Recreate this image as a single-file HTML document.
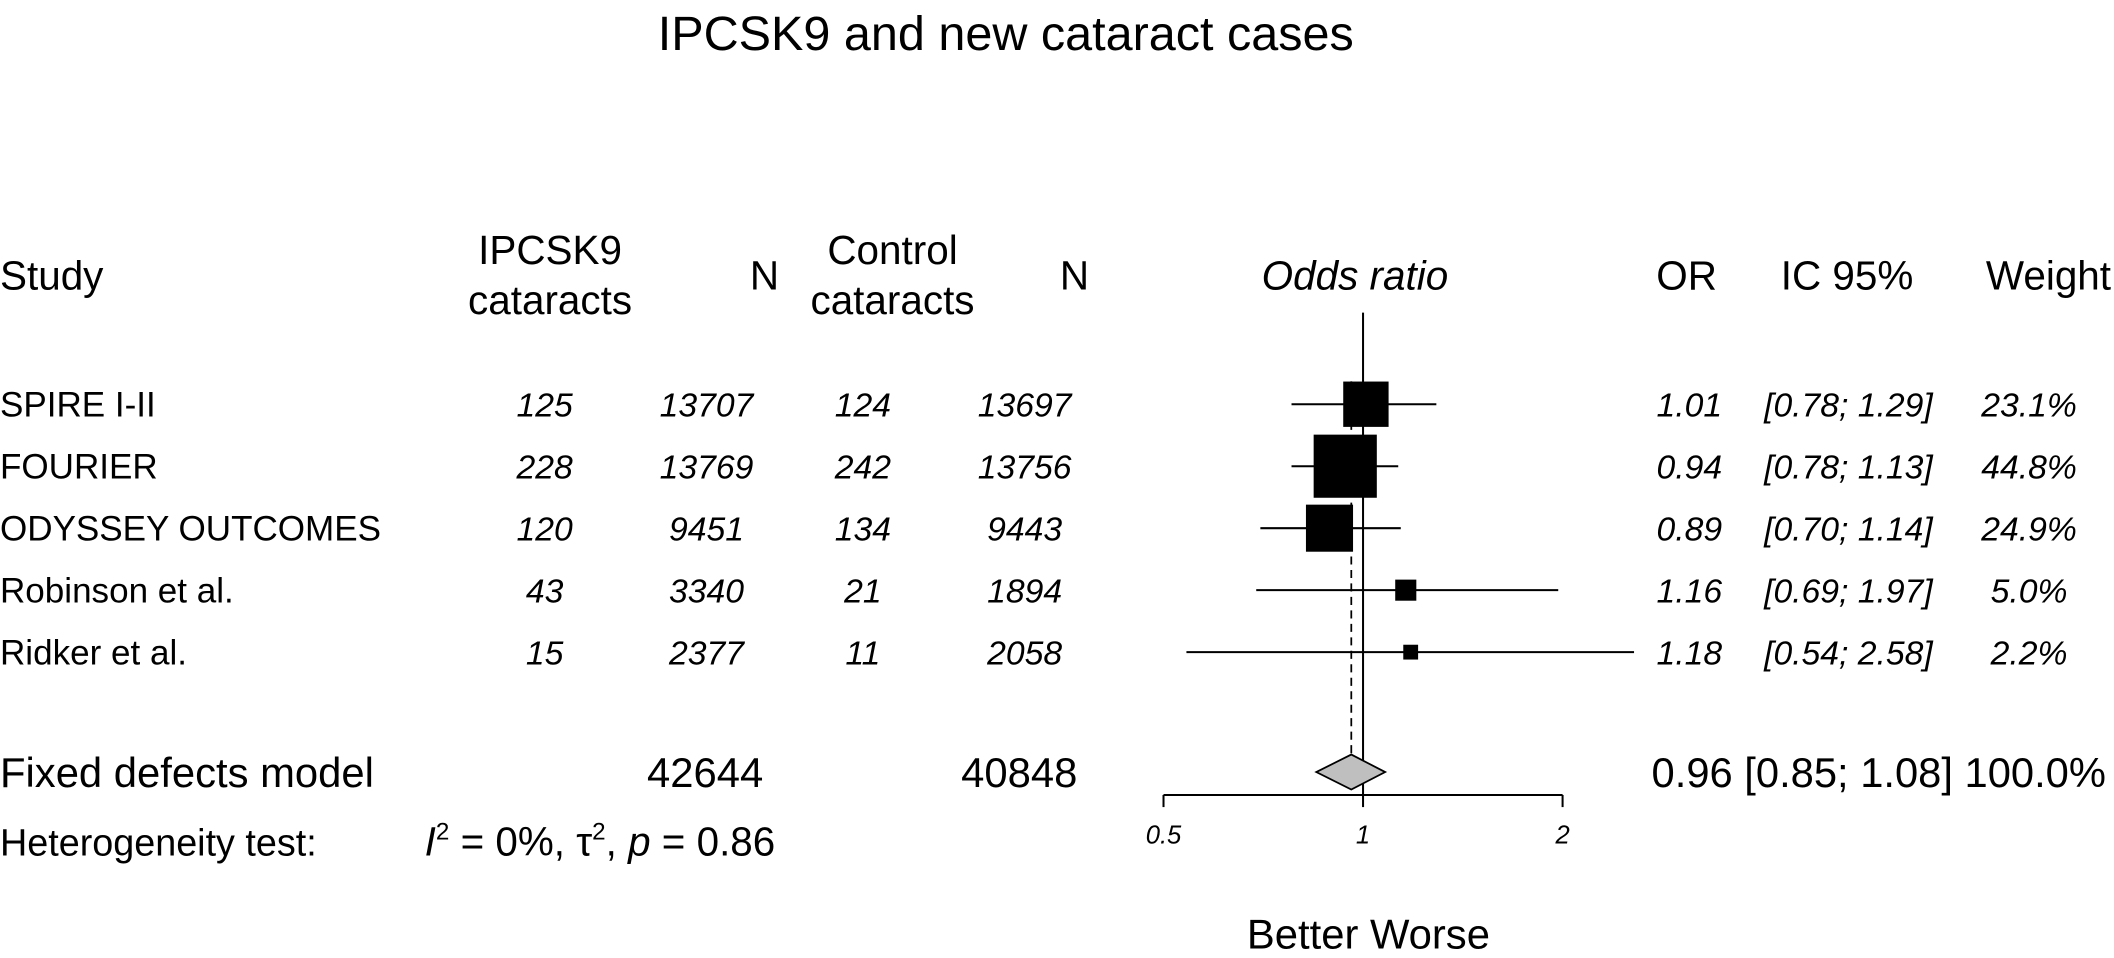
<!DOCTYPE html>
<html><head><meta charset="utf-8"><style>
html,body{margin:0;padding:0;background:#fff;}
svg{display:block;}
text{font-family:"Liberation Sans",Arial,sans-serif;fill:#000;}
.it{font-style:italic;}
</style></head><body>
<svg id="chart" width="2114" height="958" viewBox="0 0 1568 711" preserveAspectRatio="none" xmlns="http://www.w3.org/2000/svg">
<text x="746" y="37" font-size="36" text-anchor="middle">IPCSK9 and new cataract cases</text>
<g font-size="30">
<text x="0" y="215">Study</text>
<text x="408" y="196" text-anchor="middle">IPCSK9</text>
<text x="408" y="233" text-anchor="middle">cataracts</text>
<text x="567" y="215" text-anchor="middle">N</text>
<text x="662" y="196" text-anchor="middle">Control</text>
<text x="662" y="233" text-anchor="middle">cataracts</text>
<text x="797" y="215" text-anchor="middle">N</text>
<text class="it" x="1005" y="215" text-anchor="middle">Odds ratio</text>
<text x="1251" y="215" text-anchor="middle">OR</text>
<text x="1370" y="215" text-anchor="middle">IC 95%</text>
<text x="1473" y="215">Weight</text>
</g>
<g id="rows"></g>
<g id="plot"></g>
<g font-size="31">
<text x="0" y="584">Fixed defects model</text>
<text x="523" y="584" text-anchor="middle">42644</text>
<text x="756" y="584" text-anchor="middle">40848</text>
<text x="1225" y="584" textLength="337" lengthAdjust="spacingAndGlyphs">0.96 [0.85; 1.08] 100.0%</text>
</g>
<g font-size="28">
<text x="0" y="635">Heterogeneity test:</text>
<text x="315" y="635" font-size="30" textLength="260" lengthAdjust="spacingAndGlyphs"><tspan class="it">I</tspan><tspan font-size="18" dy="-12">2</tspan><tspan dy="12"> = 0%, τ</tspan><tspan font-size="18" dy="-12">2</tspan><tspan dy="12">, </tspan><tspan class="it">p</tspan><tspan> = 0.86</tspan></text>
</g>
<text x="1015" y="704" font-size="31" text-anchor="middle">Better Worse</text>
</svg>
<script>
const studies = ["SPIRE I-II","FOURIER","ODYSSEY OUTCOMES","Robinson et al.","Ridker et al."];
const evT = ["125","228","120","43","15"];
const nT = ["13707","13769","9451","3340","2377"];
const evC = ["124","242","134","21","11"];
const nC = ["13697","13756","9443","1894","2058"];
const orVals = [1.01,0.94,0.89,1.16,1.18];
const ciLow = [0.78,0.78,0.70,0.69,0.54];
const ciHigh = [1.29,1.13,1.14,1.97,2.58];
const weights = [23.1,44.8,24.9,5.0,2.2];
const pooled = [0.96,0.85,1.08];
const ticks = [0.5,1,2];
const tickLabels = ["0.5","1","2"];

const NS="http://www.w3.org/2000/svg";
const xS = v => 1011 + 148*Math.log2(v);
const rowY = i => 300 + i*46;
const clip = v => Math.max(880, Math.min(1212, v));
function mk(tag, attrs, parent){const e=document.createElementNS(NS,tag);for(const k in attrs)e.setAttribute(k,attrs[k]);parent.appendChild(e);return e;}
const rows=document.getElementById('rows'), plot=document.getElementById('plot');
const fmtCI=(a,b)=>"["+a.toFixed(2)+"; "+b.toFixed(2)+"]";

studies.forEach((s,i)=>{
  const y=rowY(i)+9;
  const g=mk('g',{},rows);
  
  
  const cells=[[s,0,'start',false],[evT[i],404,'middle',true],[nT[i],524,'middle',true],[evC[i],640,'middle',true],[nC[i],760,'middle',true],
    [orVals[i].toFixed(2),1253,'middle',true],[fmtCI(ciLow[i],ciHigh[i]),1371,'middle',true],[weights[i].toFixed(1)+"%",1505,'middle',true]];
  cells.forEach(c=>{
    const t=mk('text',{x:c[1],y:y,'font-size':c[3]?25:26,'text-anchor':c[2]},g);
    if(c[3])t.setAttribute('class','it');
    
    
    t.textContent=c[0];
  });
});

const ref=mk('line',{x1:xS(1),x2:xS(1),y1:232,y2:590,stroke:'#000','stroke-width':1.5},plot);


const dash=mk('line',{x1:xS(pooled[0]),x2:xS(pooled[0]),y1:283,y2:561,stroke:'#000','stroke-width':1.3,'stroke-dasharray':'6,4'},plot);



studies.forEach((s,i)=>{
  const y=rowY(i);
  const l=mk('line',{x1:clip(xS(ciLow[i])),x2:clip(xS(ciHigh[i])),y1:y,y2:y,stroke:'#000','stroke-width':1.5},plot);
  
  
  const sz=Math.max(11,7*Math.sqrt(weights[i]));
  const r=mk('rect',{x:xS(orVals[i])-sz/2,y:y-sz/2,width:sz,height:sz,fill:'#000'},plot);
  
  
});

const dy=573;
const d=mk('polygon',{points:[xS(pooled[1])+','+dy, xS(pooled[0])+','+(dy-13), xS(pooled[2])+','+dy, xS(pooled[0])+','+(dy+13)].join(' '),fill:'#bfbfbf',stroke:'#000','stroke-width':1.3},plot);



const ax=mk('line',{x1:xS(ticks[0]),x2:xS(ticks[ticks.length-1]),y1:590,y2:590,stroke:'#000','stroke-width':1.5},plot);


ticks.forEach((t,i)=>{
  const tk=mk('line',{x1:xS(t),x2:xS(t),y1:590,y2:599,stroke:'#000','stroke-width':1.5},plot);
  
  
  const tl=mk('text',{x:xS(t),y:626,'font-size':19,'text-anchor':'middle',class:'it'},plot);
  
  
  tl.textContent=tickLabels[i];
});
</script>
</body></html>
